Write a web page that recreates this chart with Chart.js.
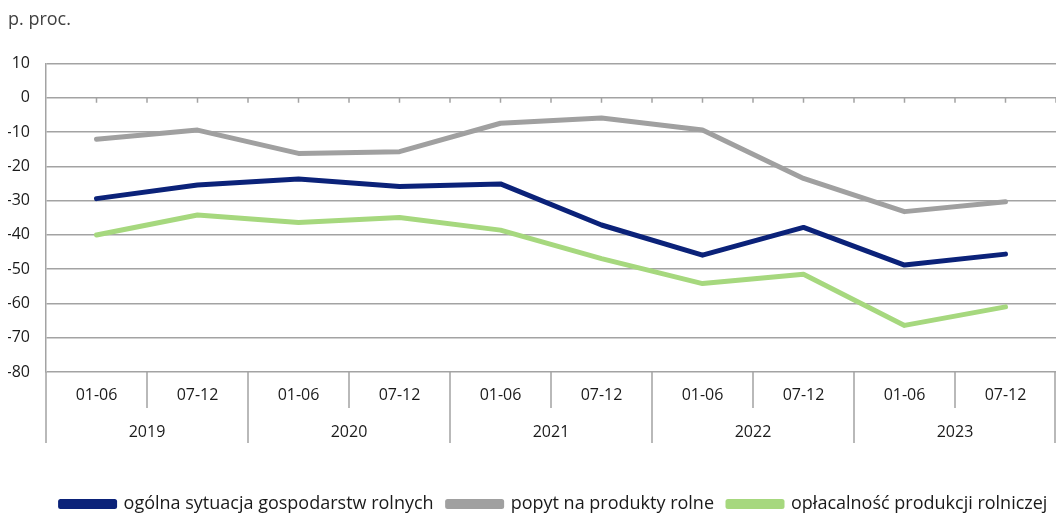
<!DOCTYPE html>
<html>
<head>
<meta charset="utf-8">
<script src="https://cdn.jsdelivr.net/npm/chart.js@4"></script>
<style>
  html, body { margin: 0; padding: 0; background: #fff; }
  #wrap { width: 1056px; height: 514px; }
</style>
</head>
<body>
<div id="wrap"><canvas id="lineChart"></canvas></div>
<script>
const periods = ['01-06', '07-12', '01-06', '07-12', '01-06', '07-12', '01-06', '07-12', '01-06', '07-12'];
const years = ['2019', '2020', '2021', '2022', '2023'];

const ogolna = [-29.4, -25.4, -23.7, -25.9, -25.1, -37.1, -45.9, -37.8, -48.8, -45.6];
const popyt = [-12.1, -9.4, -16.2, -15.7, -7.4, -5.9, -9.4, -23.5, -33.2, -30.3];
const oplacalnosc = [-40.0, -34.2, -36.4, -34.9, -38.6, -46.9, -54.2, -51.5, -66.4, -61.0];

const gridColor = '#a3a3a3';
const fontFamily = '"Open Sans", "Noto Sans", sans-serif';
const tickFont = { family: fontFamily, size: 16 };

// two-row category axis below the plot + small ticks on the zero line
const axisLabels = {
  id: 'axisLabels',
  afterLayout(chart) {
    // legend in the original sits a bit right of centre
    if (chart.legend) {
      chart.legend.left += 22;
      chart.legend.right += 22;
    }
  },
  afterDraw(chart) {
    const ctx = chart.ctx;
    const x = chart.scales.x;
    const y = chart.scales.y;
    const bottom = chart.chartArea.bottom;
    const zero = y.getPixelForValue(0);
    ctx.save();
    ctx.strokeStyle = gridColor;
    ctx.lineWidth = 1.5;
    ctx.beginPath();
    for (let i = 0; i <= periods.length; i++) {
      const bx = Math.min(x.getPixelForValue(i - 0.5), chart.width - 1);
      const len = i % 2 === 0 ? 71 : 36;
      ctx.moveTo(bx, bottom);
      ctx.lineTo(bx, bottom + len);
    }
    for (let i = 0; i < periods.length * 2; i++) {
      const tx = x.getPixelForValue(i / 2);
      if (tx <= chart.chartArea.left + 1) continue;
      ctx.moveTo(tx, zero);
      ctx.lineTo(tx, zero + 5);
    }
    ctx.stroke();

    ctx.fillStyle = '#1a1a1a';
    ctx.font = '16px ' + fontFamily;
    ctx.textAlign = 'center';
    ctx.textBaseline = 'middle';
    periods.forEach((p, i) => {
      ctx.fillText(p, x.getPixelForValue(i), bottom + 23);
    });
    years.forEach((yr, i) => {
      ctx.fillText(yr, x.getPixelForValue(i * 2 + 0.5), bottom + 60);
    });
    ctx.restore();
  }
};

new Chart(document.getElementById('lineChart'), {
  type: 'line',
  data: {
    labels: periods,
    datasets: [
      { label: 'ogólna sytuacja gospodarstw rolnych', data: ogolna, borderColor: '#0b2279', backgroundColor: '#0b2279' },
      { label: 'popyt na produkty rolne', data: popyt, borderColor: '#a0a0a0', backgroundColor: '#a0a0a0' },
      { label: 'opłacalność produkcji rolniczej', data: oplacalnosc, borderColor: '#a6d87e', backgroundColor: '#a6d87e' }
    ]
  },
  options: {
    responsive: true,
    maintainAspectRatio: false,
    animation: false,
    layout: { padding: { left: 8, right: 0, top: 0, bottom: -9 } },
    elements: {
      line: { borderWidth: 5, tension: 0, borderCapStyle: 'round', borderJoinStyle: 'round' },
      point: { radius: 0, hoverRadius: 0 }
    },
    plugins: {
      title: {
        display: true,
        text: 'p. proc.',
        align: 'start',
        color: '#404040',
        font: { family: fontFamily, size: 18, weight: 'normal' },
        padding: { top: 9, bottom: 33 }
      },
      legend: {
        position: 'bottom',
        labels: {
          boxWidth: 54,
          boxHeight: 5,
          padding: 14,
          color: '#1a1a1a',
          font: { family: fontFamily, size: 18 }
        }
      },
      tooltip: { enabled: false }
    },
    scales: {
      x: {
        type: 'category',
        offset: true,
        grid: { display: false },
        border: { display: false },
        ticks: { display: false },
        afterFit(scale) {
          const lg = scale.chart.legend;
          const lh = lg && lg.height ? lg.height : 42;
          scale.height = 514 + 9 - 372 - lh;
        }
      },
      y: {
        min: -80,
        max: 10,
        ticks: { stepSize: 10, color: '#1a1a1a', font: tickFont, padding: 16 },
        grid: { color: gridColor, lineWidth: 1.5, drawTicks: false },
        border: { color: gridColor, width: 1.5 },
        afterFit(scale) { scale.width = 38; }
      }
    }
  },
  plugins: [axisLabels]
});
</script>
</body>
</html>
